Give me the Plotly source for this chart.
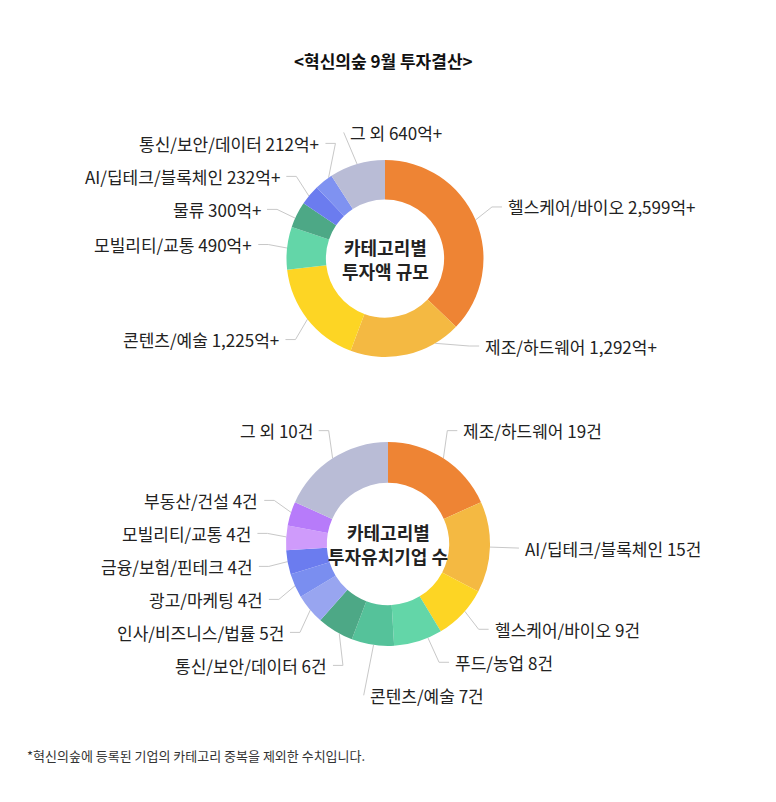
import numpy as np
import plotly.graph_objects as go

W, H = 776, 802
FONT = "Noto Sans CJK KR"

# ---- data -------------------------------------------------------------
# top donut: investment amount by category (억원)
amount_categories = ['헬스케어/바이오', '제조/하드웨어', '콘텐츠/예술', '모빌리티/교통',
                     '물류', 'AI/딥테크/블록체인', '통신/보안/데이터', '그 외']
amount_values = [2599, 1292, 1225, 490, 300, 232, 212, 640]

# bottom donut: number of funded companies by category
count_categories = ['제조/하드웨어', 'AI/딥테크/블록체인', '헬스케어/바이오', '푸드/농업',
                    '콘텐츠/예술', '통신/보안/데이터', '인사/비즈니스/법률', '광고/마케팅',
                    '금융/보험/핀테크', '모빌리티/교통', '부동산/건설', '그 외']
count_values = [19, 15, 9, 8, 7, 6, 5, 4, 4, 4, 4, 10]
# slice sizes as drawn in the source ('그 외' slice is drawn about as big as 19)
count_slice_values = [19, 15, 9, 8, 7, 6, 5, 4, 4, 4, 4, 19]

amount_colors = ['#EE8434', '#F4B942', '#FDD524', '#63D6A8', '#4DA886',
                 '#6B7CEF', '#7F92F1', '#B9BCD6']
count_colors = ['#EE8434', '#F4B942', '#FDD524', '#63D6A8', '#55C29A', '#4DA886',
                '#98A5F0', '#7A8EF0', '#6B7CEF', '#CF9BFB', '#B77BFA', '#B9BCD6']


def spread(natural, gap, lo, hi):
    # push overlapping labels apart, keeping each group centred on its natural spot
    order = np.argsort(natural)
    nat = {i: min(max(natural[i], lo), hi) for i in order}
    groups = []
    for i in order:
        groups.append([nat[i], [i]])
        while len(groups) > 1:
            (y0, a), (y1, b) = groups[-2], groups[-1]
            if y1 - (y0 + gap * (len(a) - 1)) >= gap:
                break
            members = a + b
            top = np.mean([nat[k] for k in members]) - gap * (len(members) - 1) / 2
            top = min(max(top, lo), hi - gap * (len(members) - 1))
            groups[-2:] = [[top, members]]
    out = {}
    for top, members in groups:
        for j, k in enumerate(members):
            out[k] = top + j * gap
    return out


def add_donut(fig, values, texts, colors, center, R, label_box, center_lines):
    cx, cy = center
    vals = np.array(values, dtype=float)
    cum = np.cumsum(vals)
    start = 360 * (cum - vals) / cum[-1]
    end = 360 * cum / cum[-1]
    mid = (start + end) / 2

    fig.add_trace(go.Pie(
        values=values, labels=texts, sort=False, direction='clockwise', rotation=0,
        hole=0.6, textinfo='none', hoverinfo='label', showlegend=False,
        marker=dict(colors=colors, line=dict(width=0)),
        domain=dict(x=[(cx - R) / W, (cx + R) / W], y=[1 - (cy + R) / H, 1 - (cy - R) / H])
    ))

    r_lab = R + 33
    rad = np.radians(mid)
    side = np.where(np.sin(rad) > -0.35, 1, -1)
    ny = cy - r_lab * np.cos(rad)

    ys = {}
    for s in (1, -1):
        idx = [i for i in range(len(vals)) if side[i] == s]
        res = spread(ny[idx], 33, label_box[0], label_box[1])
        for k, i in enumerate(idx):
            ys[i] = res[k]

    lx, ly = [], []
    for i in range(len(vals)):
        s = side[i]
        y = ys[i]
        if s * np.sin(rad[i]) > 0:
            x = cx + s * np.sqrt(max(r_lab ** 2 - (y - cy) ** 2, 0))
        else:
            x = cx + r_lab * np.sin(rad[i])
        lab_ang = np.degrees(np.arctan2(x - cx, cy - y)) % 360
        phi = (mid[i] + lab_ang) / 2
        phi = min(max(phi, start[i] + 2), end[i] - 2)
        p = np.radians(phi)
        x0, y0 = cx + R * np.sin(p), cy - R * np.cos(p)
        if s * np.sin(rad[i]) > 0:
            lx += [x0, x - s * 14, x - s * 4, None]
            ly += [y0, y, y, None]
        else:
            lx += [x0, x - s * 4, None]
            ly += [y0, y, None]
        fig.add_annotation(x=x, y=y, xref='x', yref='y', text=texts[i], showarrow=False,
                           xanchor='left' if s > 0 else 'right', yanchor='middle',
                           font=dict(family=FONT, size=17, color='#222'))

    fig.add_trace(go.Scatter(x=lx, y=ly, mode='lines', hoverinfo='skip', showlegend=False,
                             line=dict(color='#C8C8C8', width=1)))
    for k, line in enumerate(center_lines):
        fig.add_annotation(x=cx, y=cy + (k - (len(center_lines) - 1) / 2) * 24,
                           xref='x', yref='y', text=f'<b>{line}</b>', showarrow=False,
                           font=dict(family=FONT, size=18, color='#222'))


fig = go.Figure()

amount_texts = [f'{c} {v:,}억+' for c, v in zip(amount_categories, amount_values)]
count_texts = [f'{c} {v}건' for c, v in zip(count_categories, count_values)]

add_donut(fig, amount_values, amount_texts, amount_colors, (385, 258.5), 98.5,
          (110, 346), ['카테고리별', '투자액 규모'])
add_donut(fig, count_slice_values, count_texts, count_colors, (388, 544), 102,
          (420, 700), ['카테고리별', '투자유치기업 수'])

fig.add_annotation(x=383, y=60, xref='x', yref='y', showarrow=False,
                   text='<b><혁신의숲 9월 투자결산></b>',
                   font=dict(family=FONT, size=17, color='#111'))
fig.add_annotation(x=25, y=755, xref='x', yref='y', showarrow=False, xanchor='left',
                   text='*혁신의숲에 등록된 기업의 카테고리 중복을 제외한 수치입니다.',
                   font=dict(family=FONT, size=13, color='#333'))

fig.update_layout(
    width=W, height=H,
    margin=dict(l=0, r=0, t=0, b=0),
    paper_bgcolor='white', plot_bgcolor='white',
    xaxis=dict(range=[0, W], visible=False, fixedrange=True),
    yaxis=dict(range=[H, 0], visible=False, fixedrange=True),
)

fig.write_html("out.html", config={'displayModeBar': False},
               post_script="document.body.style.margin='0';")
